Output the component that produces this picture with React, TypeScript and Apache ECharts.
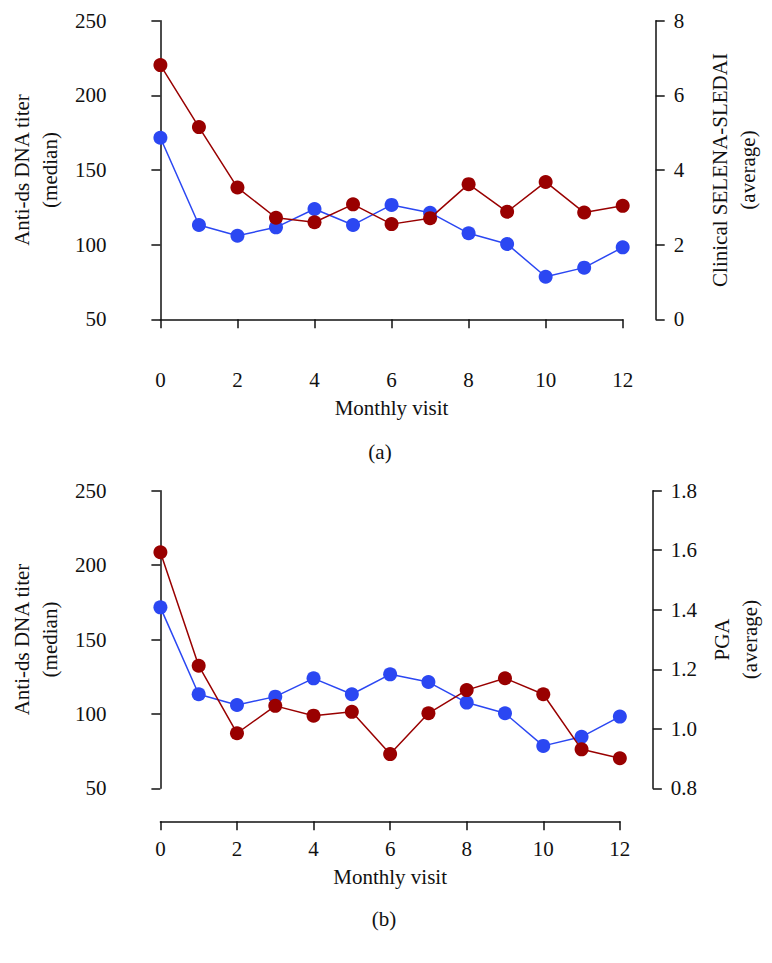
import React, { useEffect, useRef } from "react";
import * as echarts from "echarts";

const months = [0, 1, 2, 3, 4, 5, 6, 7, 8, 9, 10, 11, 12];
const antiDsDna = [171.6, 113.2, 106.0, 111.6, 123.9, 113.2, 126.6, 121.4, 107.6, 100.4, 78.5, 84.6, 98.2];
const sledai = [6.81, 5.15, 3.53, 2.72, 2.6, 3.08, 2.55, 2.71, 3.62, 2.88, 3.68, 2.86, 3.04];
const pga = [1.593, 1.212, 0.985, 1.077, 1.044, 1.057, 0.915, 1.052, 1.13, 1.17, 1.116, 0.931, 0.901];

const xTicks = { min: 0, max: 12, interval: 2 };
const leftTicks = { min: 50, max: 250, interval: 50 };
const sledaiTicks = { min: 0, max: 8, interval: 2 };
const pgaTicks = { min: 0.8, max: 1.8, interval: 0.2 };

const FONT = "Liberation Serif";
const RED = "#990000";
const BLUE = "#2b47f2";
const AX = "#111";

export default function App() {
  const ref = useRef<HTMLDivElement>(null);
  useEffect(() => {
    if (!ref.current) return;
    const chart = echarts.init(ref.current, undefined, { renderer: "svg" });
    const axisCommon = {
      axisLine: { show: true, lineStyle: { color: AX, width: 1.5 } },
      axisTick: { show: true, length: 9, lineStyle: { color: AX, width: 1.5 } },
      splitLine: { show: false },
      axisLabel: { color: AX, fontFamily: FONT, fontSize: 21 },
      nameTextStyle: { color: AX, fontFamily: FONT, fontSize: 21, lineHeight: 28 },
      nameLocation: "middle" as const,
    };
    const mkX = (gridIndex: number) => ({
      ...axisCommon,
      type: "value",
      gridIndex,
      ...xTicks,
      offset: 33,
      name: "Monthly visit",
      nameGap: 42,
      axisLabel: { ...axisCommon.axisLabel, margin: 17 },
    });
    const mkLeft = (gridIndex: number) => ({
      ...axisCommon,
      type: "value",
      gridIndex,
      position: "left",
      ...leftTicks,
      offset: 33,
      name: "Anti-ds DNA titer\n(median)",
      nameRotate: 90,
      nameGap: 52,
      axisLabel: { ...axisCommon.axisLabel, margin: 21 },
    });
    const mkRight = (gridIndex: number, ticks: any, name: string, fmt?: (v: number) => string) => ({
      ...axisCommon,
      type: "value",
      gridIndex,
      position: "right",
      ...ticks,
      offset: 33,
      name,
      nameRotate: 90,
      nameGap: 50,
      axisLabel: { ...axisCommon.axisLabel, margin: 18, formatter: fmt },
    });
    const lineSeries = (xi: number, yi: number, xs: number[], ys: number[], color: string) => ({
      type: "line",
      xAxisIndex: xi,
      yAxisIndex: yi,
      data: xs.map((x, i) => [x, ys[i]]),
      symbol: "circle",
      symbolSize: 14,
      lineStyle: { color, width: 1.5 },
      itemStyle: { color },
      z: color === RED ? 3 : 2,
    });
    chart.setOption({
      animation: false,
      backgroundColor: "#fff",
      grid: [
        { left: 157.3, right: 149.3, top: 20.7, height: 298.6 },
        { left: 157.3, right: 149.3, top: 490.7, height: 297.6 },
      ],
      xAxis: [mkX(0), mkX(1)],
      yAxis: [
        mkLeft(0),
        mkRight(0, sledaiTicks, "Clinical SELENA-SLEDAI\n(average)"),
        mkLeft(1),
        mkRight(1, pgaTicks, "PGA\n(average)", (v: number) => v.toFixed(1)),
      ],
      series: [
        lineSeries(0, 0, months, antiDsDna, BLUE),
        lineSeries(0, 1, months, sledai, RED),
        lineSeries(1, 2, months, antiDsDna, BLUE),
        lineSeries(1, 3, months, pga, RED),
      ],
      graphic: [
        { type: "text", x: 380, y: 452, style: { text: "(a)", font: `21px "${FONT}"`, fill: AX, align: "center", verticalAlign: "middle" } },
        { type: "text", x: 384, y: 919, style: { text: "(b)", font: `21px "${FONT}"`, fill: AX, align: "center", verticalAlign: "middle" } },
      ],
    });
    return () => chart.dispose();
  }, []);
  return <div ref={ref} style={{ position: "fixed", left: 0, top: 0, width: 772, height: 963 }} />;
}
